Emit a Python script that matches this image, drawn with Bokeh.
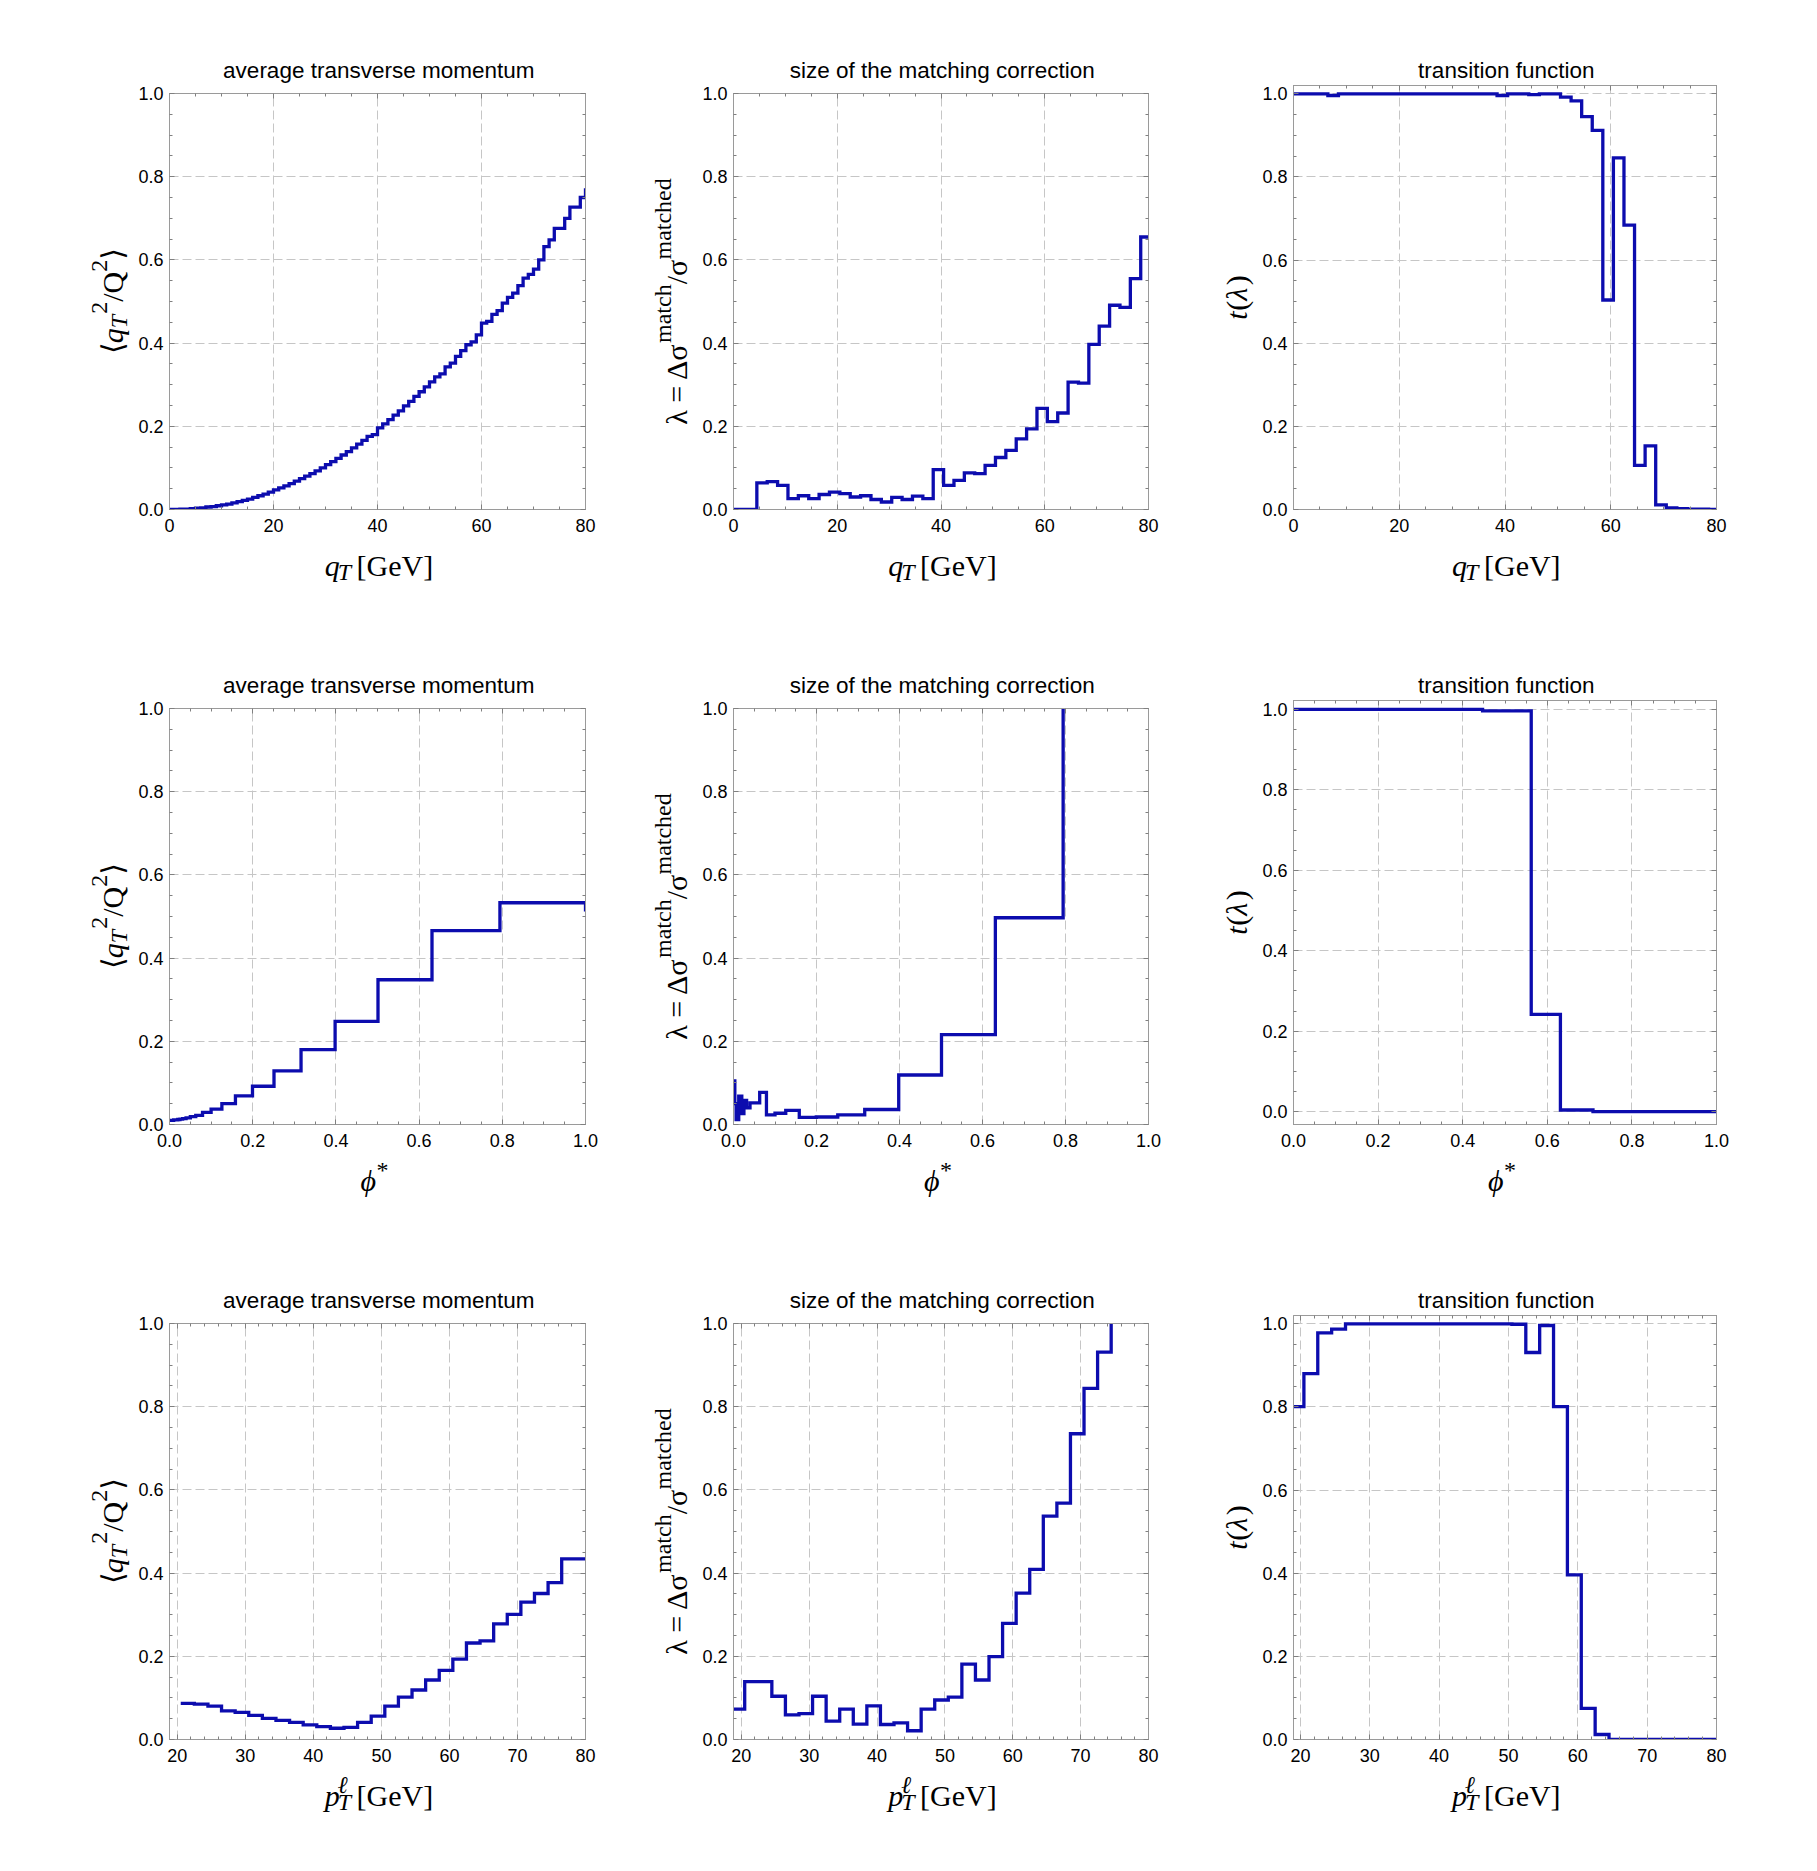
import math
import numpy as np
from bokeh.plotting import figure
from bokeh.layouts import row, column
from bokeh.models import (Range1d, FixedTicker, LinearAxis,
                          PrintfTickFormatter, BasicTickFormatter, CustomJSTickFormatter)
from bokeh.core.properties import value
from bokeh.embed import file_html
from bokeh.resources import INLINE

# ---------------------------------------------------------------- data
# row 1 : binned in q_T [GeV]
qt_fine_edges = [0, 1, 2, 3, 4, 5, 6, 7, 8, 9, 10, 11, 12, 13, 14, 15, 16, 17, 18, 19,
                 20, 21, 22, 23, 24, 25, 26, 27, 28, 29, 30, 31, 32, 33, 34, 35, 36, 37, 38, 39,
                 40, 41, 42, 43, 44, 45, 46, 47, 48, 49, 50, 51, 52, 53, 54, 55, 56, 57, 58, 59,
                 60, 61, 62, 63, 64, 65, 66, 67, 68, 69, 70, 71, 72, 73, 74, 75, 76, 77, 78, 79, 80]
qt_avg = [0.000, 0.000, 0.001, 0.001, 0.002, 0.003, 0.004, 0.006, 0.007, 0.009,
          0.011, 0.013, 0.016, 0.019, 0.022, 0.025, 0.029, 0.033, 0.037, 0.042,
          0.047, 0.052, 0.057, 0.062, 0.068, 0.074, 0.080, 0.086, 0.093, 0.100,
          0.108, 0.115, 0.123, 0.131, 0.139, 0.148, 0.157, 0.166, 0.176, 0.180,
          0.196, 0.206, 0.216, 0.227, 0.237, 0.249, 0.260, 0.272, 0.283, 0.295,
          0.307, 0.319, 0.326, 0.343, 0.352, 0.368, 0.382, 0.396, 0.403, 0.420,
          0.448, 0.452, 0.469, 0.478, 0.496, 0.510, 0.520, 0.538, 0.556, 0.565,
          0.578, 0.600, 0.632, 0.648, 0.676, 0.676, 0.700, 0.727, 0.727, 0.750,
          0.772]

qt_edges = [0, 2.5, 4.5, 6.5, 8.5, 10.5, 12.5, 14.5, 16.5, 18.5,
            20.5, 22.5, 24.5, 26.5, 28.5, 30.5, 32.5, 34.5, 36.5, 38.5,
            40.5, 42.5, 44.5, 46.5, 48.5, 50.5, 52.5, 54.5, 56.5, 58.5,
            60.5, 62.5, 64.5, 66.5, 68.5, 70.5, 72.5, 74.5, 76.5, 78.5, 80]
qt_lambda = [0.000, 0.000, 0.064, 0.067, 0.058, 0.026, 0.033, 0.026, 0.036, 0.042,
             0.038, 0.030, 0.033, 0.024, 0.018, 0.029, 0.024, 0.032, 0.026, 0.096,
             0.058, 0.070, 0.088, 0.086, 0.106, 0.125, 0.142, 0.170, 0.194, 0.243,
             0.211, 0.232, 0.306, 0.304, 0.397, 0.441, 0.491, 0.486, 0.555, 0.655, 0.655]
qt_trans = [1.000, 1.000, 1.000, 0.996, 1.000, 1.000, 1.000, 1.000, 1.000, 1.000,
            1.000, 1.000, 1.000, 1.000, 1.000, 1.000, 1.000, 1.000, 1.000, 0.996,
            1.000, 1.000, 0.998, 1.000, 1.000, 0.992, 0.983, 0.945, 0.912, 0.504,
            0.846, 0.684, 0.106, 0.153, 0.011, 0.004, 0.002, 0.001, 0.001, 0.000, 0.000]

# row 2 : binned in phi*
phi_edges = [0.0, 0.0032, 0.0063, 0.0079, 0.0100, 0.0126, 0.0158, 0.0200, 0.0251, 0.0316,
             0.0398, 0.0501, 0.0631, 0.0794, 0.1000, 0.1259, 0.1585, 0.1995, 0.2512, 0.3162,
             0.3981, 0.5012, 0.6310, 0.7943, 1.0]
phi_avg = [0.010, 0.010, 0.010, 0.010, 0.011, 0.011, 0.011, 0.012, 0.013, 0.014,
           0.016, 0.019, 0.022, 0.029, 0.037, 0.050, 0.069, 0.092, 0.129, 0.180,
           0.248, 0.348, 0.466, 0.533, 0.512]
phi_lambda = [0.105, 0.050, 0.012, 0.012, 0.012, 0.068, 0.068, 0.026, 0.058, 0.040,
              0.052, 0.052, 0.077, 0.023, 0.027, 0.034, 0.017, 0.018, 0.023, 0.036,
              0.119, 0.216, 0.497, 1.500, 1.500]
phi_trans_edges = [0.0, 0.447, 0.562, 0.631, 0.708, 1.0]
phi_trans = [1.000, 0.996, 0.242, 0.004, 0.000, 0.000]

# row 3 : binned in lepton p_T [GeV]
ptl_avg_edges = [20.5, 22.5, 24.5, 26.5, 28.5, 30.5, 32.5, 34.5, 36.5, 38.5,
                 40.5, 42.5, 44.5, 46.5, 48.5, 50.5, 52.5, 54.5, 56.5, 58.5,
                 60.5, 62.5, 64.5, 66.5, 68.5, 70.5, 72.5, 74.5, 76.5, 80]
ptl_avg = [0.087, 0.085, 0.080, 0.069, 0.065, 0.058, 0.051, 0.046, 0.041, 0.035,
           0.031, 0.027, 0.029, 0.041, 0.056, 0.080, 0.102, 0.119, 0.143, 0.166,
           0.193, 0.232, 0.237, 0.278, 0.301, 0.330, 0.351, 0.377, 0.434, 0.436]
ptl_edges = [18.5, 20.5, 22.5, 24.5, 26.5, 28.5, 30.5, 32.5, 34.5, 36.5,
             38.5, 40.5, 42.5, 44.5, 46.5, 48.5, 50.5, 52.5, 54.5, 56.5,
             58.5, 60.5, 62.5, 64.5, 66.5, 68.5, 70.5, 72.5, 74.5, 76.5, 80]
ptl_lambda = [0.073, 0.139, 0.139, 0.104, 0.059, 0.062, 0.104, 0.044, 0.073, 0.037,
              0.081, 0.036, 0.040, 0.021, 0.073, 0.095, 0.102, 0.181, 0.143, 0.199,
              0.279, 0.352, 0.409, 0.537, 0.568, 0.735, 0.844, 0.931, 1.300, 1.300, 1.300]
ptl_trans = [0.801, 0.880, 0.978, 0.987, 1.000, 1.000, 1.000, 1.000, 1.000, 1.000,
             1.000, 1.000, 1.000, 1.000, 1.000, 1.000, 0.999, 0.931, 0.996, 0.801,
             0.396, 0.075, 0.012, 0.000, 0.000, 0.000, 0.000, 0.000, 0.000, 0.000, 0.000]

titles = ["average transverse momentum", "size of the matching correction", "transition function"]
qt_ticks = [0, 20, 40, 60, 80]
phi_ticks = [0.0, 0.2, 0.4, 0.6, 0.8, 1.0]
ptl_ticks = [20, 30, 40, 50, 60, 70, 80]
y_ticks = [0.0, 0.2, 0.4, 0.6, 0.8, 1.0]

# ---------------------------------------------------------------- style
SANS = "'Liberation Sans', Arial, sans-serif"
SERIF = "'Liberation Serif', 'DejaVu Serif', serif"
LINE = "#0c0cae"
FRAME = "#9a9a9a"
TICK = "#808080"
GRID = "#c6c6c6"
MAIN = 30
SCRIPT = 24
ROW_H = 615

W_R = {' ': 0.25, '[': 0.333, ']': 0.333, 'G': 0.722, 'e': 0.444, 'V': 0.722, '=': 0.564,
       '/': 0.278, 'Q': 0.722, '2': 0.5, '(': 0.333, ')': 0.333, 'm': 0.778, 'a': 0.444,
       't': 0.278, 'c': 0.444, 'h': 0.5, 'd': 0.5, '*': 0.5, 'Δ': 0.612, 'σ': 0.55,
       'λ': 0.5, '⟨': 0.36, '⟩': 0.36}
W_I = {'q': 0.5, 'T': 0.60, 'p': 0.5, 't': 0.30, 'λ': 0.52, 'ϕ': 0.62, 'ℓ': 0.42}


def text_width(s, italic, size):
    tbl = W_I if italic else W_R
    return sum(tbl.get(ch, W_R.get(ch, 0.5)) for ch in s) * size


# pieces: (text, script, italic, baseline shift [em of MAIN], advances)
X_QT = [("q", False, True, 0, True), ("T", True, True, -0.2, True),
        (" [GeV]", False, False, 0, True)]
X_PHI = [("ϕ", False, True, 0, True), ("*", True, False, 0.36, True)]
X_PT = [("p", False, True, 0, True), ("ℓ", True, True, 0.36, False),
        ("T", True, True, -0.22, True), (" [GeV]", False, False, 0, True)]
Y_AVG = [("⟨", False, False, 0, True), ("q", False, True, 0, True),
         ("T", True, True, -0.2, True), ("2", True, False, 0.45, True),
         ("/Q", False, False, 0, True), ("2", True, False, 0.45, True),
         ("⟩", False, False, 0, True)]
Y_LAM = [("λ = Δσ", False, False, 0, True), ("match", True, False, 0.45, True),
         ("/σ", False, False, 0, True), ("matched", True, False, 0.45, True)]
Y_T = [("t", False, True, 0, True), ("(", False, False, 0, True),
       ("λ", False, True, 0, True), (")", False, False, 0, True)]


def blank_fig(w, h):
    f = figure(width=w, height=h, x_range=Range1d(0, w), y_range=Range1d(0, h),
               output_backend="svg", toolbar_location=None,
               x_axis_type=None, y_axis_type=None, min_border=0,
               min_border_left=0, min_border_right=0, min_border_top=0, min_border_bottom=0)
    f.outline_line_color = None
    f.background_fill_color = "white"
    f.border_fill_color = "white"
    return f


def add_rich(f, pieces, axis, center, base):
    total = sum(text_width(t, it, SCRIPT if sc else MAIN)
                for (t, sc, it, sh, adv) in pieces if adv)
    pos = center - total / 2
    for (t, sc, it, sh, adv) in pieces:
        fs = SCRIPT if sc else MAIN
        off = sh * MAIN
        lead = len(t) - len(t.lstrip(" "))
        start = pos + lead * W_R[" "] * fs
        if axis == "x":
            x, y, ang = start, base + off, 0.0
        else:
            x, y, ang = base - off, start, math.pi / 2
        f.text(x=[x], y=[y], text=[t.lstrip(" ")], angle=ang, text_font=value(SERIF),
               text_font_size=value(f"{fs}px"),
               text_font_style=value("italic" if it else "normal"),
               text_color="black", text_align="left", text_baseline="alphabetic")
        if adv:
            pos += text_width(t, it, fs)


# column geometry (frame left offset, frame width, right border, label strip width)
COLS = [dict(ml=169, fw=416, mr=30, lw=132),
        dict(ml=118, fw=415, mr=30, lw=81),
        dict(ml=115, fw=423, mr=30, lw=78)]


def minors(lo, hi, step, majors):
    vals = np.arange(lo, hi + step / 2, step)
    return [float(round(v, 6)) for v in vals if all(abs(v - m) > 1e-9 for m in majors)]


def style_axis(ax, ticker, fmt, labels=True, standoff=6):
    ax.ticker = ticker
    ax.axis_line_color = FRAME
    ax.major_tick_line_color = TICK
    ax.minor_tick_line_color = TICK
    ax.major_tick_in = 5
    ax.major_tick_out = 0
    ax.minor_tick_in = 3
    ax.minor_tick_out = 0
    if labels:
        ax.formatter = fmt
        ax.major_label_text_font = SANS
        ax.major_label_text_font_size = "18px"
        ax.major_label_text_color = "black"
        ax.major_label_standoff = standoff
    else:
        ax.formatter = CustomJSTickFormatter(code="return ''")
        ax.major_label_standoff = 0
        ax.major_label_text_font_size = "0px"


def panel(ci, title, xs, ys, xr, yr, xticks, xminor, xfmt, xlab, ylab):
    c = COLS[ci]
    mt = 85 if ci == 2 else 93          # frame top from row top
    fh = 424 if ci == 2 else 416        # frame height
    th = 82 if ci == 2 else 84          # title strip height
    mb = 32                             # room for tick labels
    lw = c["lw"]
    inner_left = c["ml"] - lw
    mw = inner_left + c["fw"] + c["mr"]
    main_h = (mt - th) + fh + mb
    xl_h = ROW_H - th - main_h

    p = figure(width=mw, height=main_h,
               x_range=Range1d(*xr), y_range=Range1d(*yr),
               output_backend="svg", toolbar_location=None,
               min_border_left=inner_left, min_border_right=c["mr"],
               min_border_top=mt - th, min_border_bottom=mb)
    p.background_fill_color = "white"
    p.border_fill_color = "white"
    p.outline_line_color = FRAME
    p.outline_line_width = 1

    xt = FixedTicker(ticks=xticks, minor_ticks=xminor)
    ymin = minors(-0.05 if yr[0] < 0 else 0.0, 1.0, 0.05, y_ticks)
    ymin = [v for v in ymin if yr[0] <= v <= yr[1]]
    yt = FixedTicker(ticks=y_ticks, minor_ticks=ymin)
    yfmt = PrintfTickFormatter(format="%.1f")

    style_axis(p.xaxis[0], xt, xfmt, True, 9)
    style_axis(p.yaxis[0], yt, yfmt, True, 6)
    top = LinearAxis()
    style_axis(top, FixedTicker(ticks=xticks, minor_ticks=xminor), None, False)
    p.add_layout(top, "above")
    right = LinearAxis()
    style_axis(right, FixedTicker(ticks=y_ticks, minor_ticks=ymin), None, False)
    p.add_layout(right, "right")

    p.xgrid.ticker = FixedTicker(ticks=xticks)
    p.ygrid.ticker = FixedTicker(ticks=y_ticks)
    for g in (p.xgrid, p.ygrid):
        g.grid_line_color = GRID
        g.grid_line_dash = "9 4"
        g.grid_line_width = 1

    p.step(x=xs, y=ys, mode="after", line_color=LINE, line_width=3.3, line_join="miter")

    # title strip
    tf = blank_fig(mw, th)
    tf.text(x=[inner_left + c["fw"] / 2 - 2], y=[th - 70], text=[title],
            text_font=value(SANS), text_font_size=value("22.5px"),
            text_color="black", text_align="center", text_baseline="alphabetic")

    # x label strip
    xf = blank_fig(mw, xl_h)
    add_rich(xf, xlab, "x", inner_left + c["fw"] / 2 - 8, xl_h - (56 - mb))

    # y label strip
    yf = blank_fig(lw, ROW_H)
    add_rich(yf, ylab, "y", ROW_H - (mt + fh / 2), c["ml"] - 57)

    return row(yf, column(tf, p, xf))


qt_minor = minors(0, 80, 5, qt_ticks)
phi_minor = minors(0, 1.0, 0.05, phi_ticks)
ptl_minor = minors(20, 80, 2, ptl_ticks)
int_fmt = BasicTickFormatter()
phi_fmt = PrintfTickFormatter(format="%.1f")

r1 = row(
    panel(0, titles[0], qt_fine_edges, qt_avg, (0, 80), (0, 1), qt_ticks, qt_minor, int_fmt, X_QT, Y_AVG),
    panel(1, titles[1], qt_edges, qt_lambda, (0, 80), (0, 1), qt_ticks, qt_minor, int_fmt, X_QT, Y_LAM),
    panel(2, titles[2], qt_edges, qt_trans, (0, 80), (0, 1.02), qt_ticks, qt_minor, int_fmt, X_QT, Y_T),
)
r2 = row(
    panel(0, titles[0], phi_edges, phi_avg, (0, 1), (0, 1), phi_ticks, phi_minor, phi_fmt, X_PHI, Y_AVG),
    panel(1, titles[1], phi_edges, phi_lambda, (0, 1), (0, 1), phi_ticks, phi_minor, phi_fmt, X_PHI, Y_LAM),
    panel(2, titles[2], phi_trans_edges, phi_trans, (0, 1), (-0.032, 1.022), phi_ticks, phi_minor, phi_fmt, X_PHI, Y_T),
)
r3 = row(
    panel(0, titles[0], ptl_avg_edges, ptl_avg, (18.85, 80), (0, 1), ptl_ticks, ptl_minor, int_fmt, X_PT, Y_AVG),
    panel(1, titles[1], ptl_edges, ptl_lambda, (18.85, 80), (0, 1), ptl_ticks, ptl_minor, int_fmt, X_PT, Y_LAM),
    panel(2, titles[2], ptl_edges, ptl_trans, (19.0, 80), (0, 1.02), ptl_ticks, ptl_minor, int_fmt, X_PT, Y_T),
)
layout = column(r1, r2, r3)

open("out.html", "w").write(file_html(layout, INLINE))
